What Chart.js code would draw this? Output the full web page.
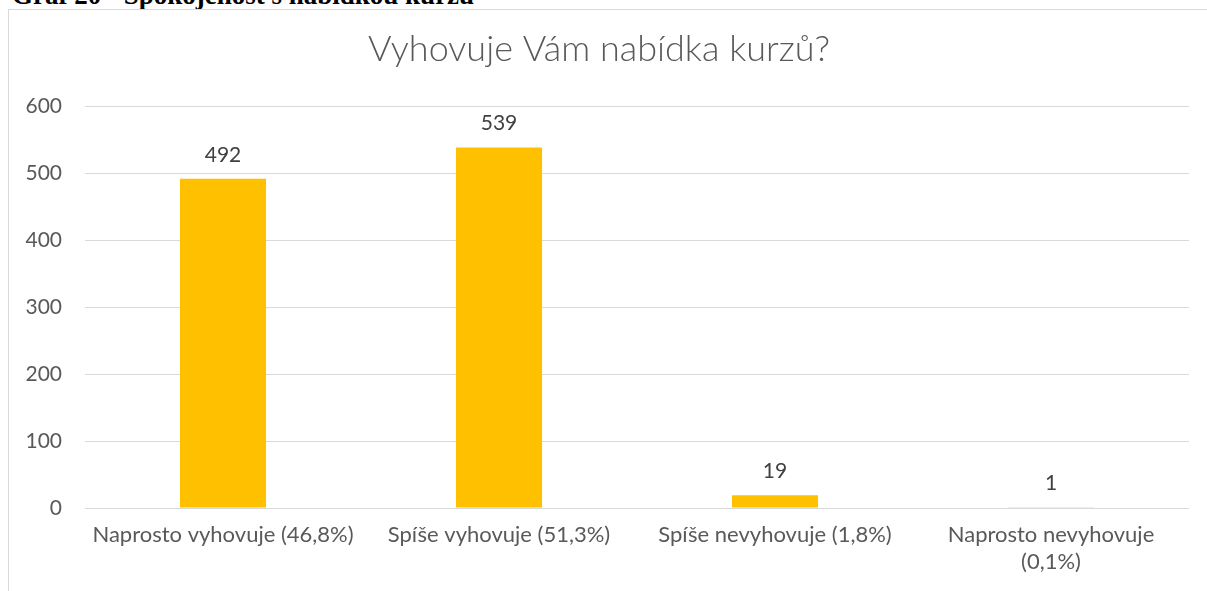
<!DOCTYPE html>
<html>
<head>
<meta charset="utf-8">
<script src="https://cdn.jsdelivr.net/npm/chart.js@4/dist/chart.umd.min.js"></script>
<style>
  html, body { margin: 0; padding: 0; background: #fff; width: 1207px; height: 591px; overflow: hidden; position: relative; }
  #heading { position: absolute; left: 12px; top: -18px; font-family: "Liberation Serif", "Times New Roman", serif; font-weight: bold; font-size: 27px; line-height: 27px; color: #000; white-space: nowrap; }
  #frame { position: absolute; left: 8px; top: 9px; width: 1300px; height: 700px; border: 1px solid #d9d9d9; box-sizing: border-box; }
  #wrap { position: absolute; left: 9px; top: 10px; width: 1190px; height: 581px; }
</style>
</head>
<body>
<div id="heading">Graf 20 - Spokojenost s nabídkou kurzu</div>
<div id="frame"></div>
<div id="wrap"><canvas id="c" width="1190" height="581"></canvas></div>
<script>
const chartTitle = "Vyhovuje Vám nabídka kurzů?";
const categories = [
  "Naprosto vyhovuje (46,8%)",
  "Spíše vyhovuje (51,3%)",
  "Spíše nevyhovuje (1,8%)",
  ["Naprosto nevyhovuje", "(0,1%)"]
];
const counts = [492, 539, 19, 1];
const yTicks = [0, 100, 200, 300, 400, 500, 600];

const FONT = "Lato, 'Open Sans', sans-serif";

const valueLabels = {
  id: 'valueLabels',
  afterDatasetsDraw(chart) {
    const ctx = chart.ctx;
    const meta = chart.getDatasetMeta(0);
    ctx.save();
    ctx.font = "21px " + FONT;
    ctx.fillStyle = "#404040";
    ctx.textAlign = "center";
    ctx.textBaseline = "alphabetic";
    meta.data.forEach((bar, i) => {
      ctx.fillText(String(chart.data.datasets[0].data[i]), bar.x, bar.y - 17);
    });
    ctx.restore();
  }
};

new Chart(document.getElementById('c'), {
  type: 'bar',
  data: {
    labels: categories,
    datasets: [{
      data: counts,
      backgroundColor: '#FFC000',
      borderWidth: 0,
      barPercentage: 0.312,
      categoryPercentage: 1.0
    }]
  },
  options: {
    responsive: false,
    animation: false,
    devicePixelRatio: 1,
    layout: { padding: { left: 0, right: 10, top: 0, bottom: 0 } },
    plugins: {
      legend: { display: false },
      tooltip: { enabled: false },
      title: {
        display: true,
        text: chartTitle,
        color: '#595959',
        font: { family: FONT, size: 36, weight: 300, lineHeight: 1.2 },
        padding: { top: 18, bottom: 35.4 }
      }
    },
    scales: {
      x: {
        grid: { display: false, drawTicks: false },
        border: { display: false },
        ticks: {
          color: '#595959',
          font: { family: FONT, size: 22, lineHeight: 1.25 },
          padding: 13,
          maxRotation: 0,
          autoSkip: false
        },
        afterFit(scale) { scale.height = 83; }
      },
      y: {
        min: 0,
        max: 600,
        afterBuildTicks(scale) { scale.ticks = yTicks.map(v => ({ value: v })); },
        grid: { color: '#d9d9d9', lineWidth: 1, drawTicks: false },
        border: { display: false },
        ticks: {
          color: '#595959',
          font: { family: FONT, size: 21 },
          padding: 23
        },
        afterFit(scale) { scale.width = 76; }
      }
    }
  },
  plugins: [valueLabels]
});
</script>
</body>
</html>
